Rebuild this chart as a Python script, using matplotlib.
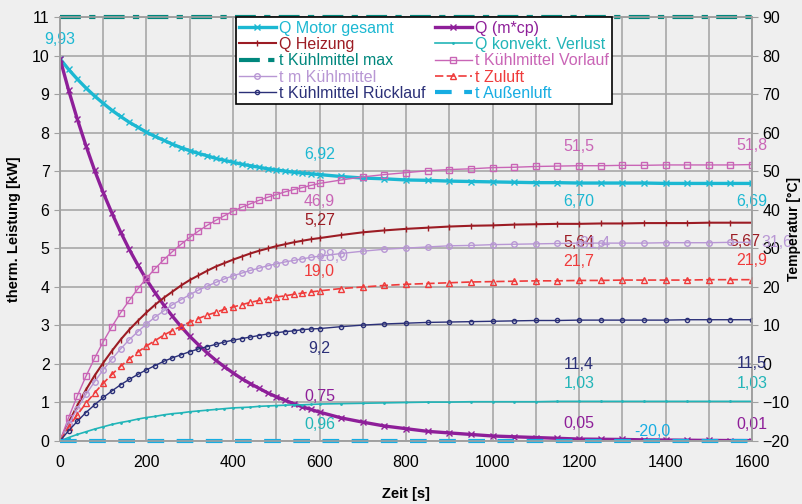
import numpy as np
import matplotlib
matplotlib.use("Agg")
from matplotlib import pyplot as plt
from matplotlib.ticker import MultipleLocator

plt.rcParams['font.family'] = ['Liberation Sans', 'DejaVu Sans']

# time axis [s]: 20 s steps up to 600 s, then 50 s steps
zeit = [0, 20, 40, 60, 80, 100, 120, 140, 160, 180, 200, 220, 240, 260, 280, 300,
        320, 340, 360, 380, 400, 420, 440, 460, 480, 500, 520, 540, 560, 580, 600,
        650, 700, 750, 800, 850, 900, 950, 1000, 1050, 1100, 1150, 1200, 1250, 1300,
        1350, 1400, 1450, 1500, 1550, 1600]

# thermal power [kW]
q_motor = [9.93, 9.65, 9.40, 9.17, 8.96, 8.77, 8.59, 8.43, 8.28, 8.15, 8.02, 7.91, 7.81,
           7.71, 7.62, 7.54, 7.47, 7.41, 7.34, 7.29, 7.24, 7.19, 7.15, 7.11, 7.07, 7.04,
           7.01, 6.98, 6.96, 6.94, 6.92, 6.87, 6.83, 6.81, 6.78, 6.77, 6.75, 6.74, 6.73,
           6.72, 6.71, 6.71, 6.70, 6.70, 6.70, 6.70, 6.69, 6.69, 6.69, 6.69, 6.69]
q_mcp = [9.93, 9.11, 8.36, 7.67, 7.03, 6.45, 5.92, 5.43, 4.98, 4.57, 4.19, 3.85, 3.53,
         3.24, 2.97, 2.72, 2.50, 2.29, 2.10, 1.93, 1.77, 1.62, 1.49, 1.37, 1.25, 1.15,
         1.06, 0.97, 0.89, 0.82, 0.75, 0.60, 0.49, 0.39, 0.32, 0.25, 0.21, 0.17, 0.13,
         0.11, 0.09, 0.07, 0.05, 0.045, 0.04, 0.03, 0.025, 0.02, 0.015, 0.012, 0.01]
q_heizung = [0.0, 0.48, 0.92, 1.33, 1.70, 2.03, 2.34, 2.63, 2.89, 3.12, 3.34, 3.54, 3.72,
             3.88, 4.04, 4.18, 4.30, 4.42, 4.53, 4.62, 4.71, 4.79, 4.87, 4.94, 5.00, 5.06,
             5.11, 5.16, 5.20, 5.24, 5.27, 5.35, 5.42, 5.47, 5.51, 5.54, 5.57, 5.59, 5.60,
             5.62, 5.63, 5.64, 5.64, 5.65, 5.65, 5.66, 5.66, 5.66, 5.67, 5.67, 5.67]
q_konv = [0.0, 0.09, 0.17, 0.24, 0.31, 0.37, 0.43, 0.48, 0.52, 0.57, 0.61, 0.64, 0.68,
          0.71, 0.73, 0.76, 0.78, 0.80, 0.82, 0.84, 0.86, 0.87, 0.88, 0.90, 0.91, 0.92,
          0.93, 0.94, 0.94, 0.95, 0.96, 0.97, 0.98, 0.99, 1.00, 1.01, 1.01, 1.02, 1.02,
          1.02, 1.02, 1.03, 1.03, 1.03, 1.03, 1.03, 1.03, 1.03, 1.03, 1.03, 1.03]

# temperatures [°C]
t_vorlauf = [-20.0, -13.9, -8.3, -3.2, 1.5, 5.8, 9.7, 13.3, 16.5, 19.5, 22.3, 24.8, 27.1,
             29.2, 31.1, 32.9, 34.5, 36.0, 37.3, 38.5, 39.7, 40.7, 41.6, 42.5, 43.3, 44.0,
             44.7, 45.3, 45.8, 46.4, 46.9, 47.8, 48.6, 49.2, 49.7, 50.2, 50.5, 50.7, 51.0,
             51.1, 51.3, 51.4, 51.5, 51.5, 51.6, 51.6, 51.7, 51.7, 51.7, 51.7, 51.8]
t_mittel = [-20.0, -15.6, -11.6, -7.9, -4.6, -1.5, 1.3, 3.9, 6.3, 8.4, 10.4, 12.2, 13.8,
            15.4, 16.7, 18.0, 19.2, 20.2, 21.2, 22.1, 22.9, 23.6, 24.3, 24.9, 25.5, 26.0,
            26.5, 26.9, 27.3, 27.7, 28.0, 28.7, 29.3, 29.8, 30.1, 30.4, 30.7, 30.8, 31.0,
            31.1, 31.2, 31.3, 31.4, 31.4, 31.4, 31.4, 31.5, 31.5, 31.5, 31.6, 31.6]
t_zuluft = [-20.0, -16.4, -13.2, -10.2, -7.5, -5.0, -2.7, -0.6, 1.3, 3.1, 4.7, 6.1, 7.5,
            8.7, 9.8, 10.9, 11.8, 12.7, 13.4, 14.2, 14.8, 15.4, 16.0, 16.5, 16.9, 17.4,
            17.7, 18.1, 18.4, 18.7, 19.0, 19.6, 20.0, 20.4, 20.7, 20.9, 21.1, 21.3, 21.4,
            21.5, 21.6, 21.6, 21.7, 21.7, 21.8, 21.8, 21.8, 21.8, 21.9, 21.9, 21.9]
t_ruecklauf = [-20.0, -17.3, -14.9, -12.6, -10.6, -8.7, -7.0, -5.4, -4.0, -2.7, -1.5, -0.4,
               0.7, 1.6, 2.4, 3.2, 3.9, 4.5, 5.1, 5.7, 6.2, 6.6, 7.0, 7.4, 7.8, 8.1, 8.4,
               8.6, 8.9, 9.1, 9.2, 9.7, 10.1, 10.4, 10.6, 10.8, 10.9, 11.0, 11.1, 11.2,
               11.3, 11.3, 11.4, 11.4, 11.4, 11.4, 11.4, 11.5, 11.5, 11.5, 11.5]
t_max = [90.0] * len(zeit)
t_aussen = [-20.0] * len(zeit)

zeit = np.array(zeit)

fig = plt.figure(figsize=(8.02, 5.04), dpi=100, facecolor='#efefef')
ax = fig.add_axes([0.0748, 0.125, 0.8629, 0.8403])
ax2 = ax.twinx()
ax.set_facecolor('#efefef')

c_motor = '#1cb8d2'
c_mcp = '#8e1f99'
c_heiz = '#9c1c24'
c_konv = '#22b5b8'
c_max = '#00877d'
c_vorl = '#c965b6'
c_mitt = '#b897d4'
c_zul = '#ef3b3b'
c_rueck = '#2b3078'
c_aussen = '#17ade2'

h_motor, = ax.plot(zeit, q_motor, color=c_motor, lw=2.4, marker='x', ms=4, mew=1,
                   label='Q Motor gesamt')
h_mcp, = ax.plot(zeit, q_mcp, color=c_mcp, lw=2.4, marker='x', ms=4, mew=1,
                 label='Q (m*cp)')
h_heiz, = ax.plot(zeit, q_heizung, color=c_heiz, lw=1.5, marker='|', ms=5, mew=1,
                  label='Q Heizung')
h_konv, = ax.plot(zeit, q_konv, color=c_konv, lw=1.2, marker='.', ms=2,
                  label='Q konvekt. Verlust')

h_max, = ax2.plot(zeit, t_max, color=c_max, lw=3, ls=(0, (5, 2, 1.5, 2)),
                  label='t Kühlmittel max', clip_on=False)
h_vorl, = ax2.plot(zeit, t_vorlauf, color=c_vorl, lw=1, marker='s', ms=4, mfc='none',
                   mew=1, label='t Kühlmittel Vorlauf')
h_mitt, = ax2.plot(zeit, t_mittel, color=c_mitt, lw=1, marker='o', ms=4, mfc='none',
                   mew=1, label='t m Kühlmittel')
h_zul, = ax2.plot(zeit, t_zuluft, color=c_zul, lw=1.2, ls=(0, (5, 2)), marker='^', ms=4,
                  mfc='none', mew=1, label='t Zuluft')
h_rueck, = ax2.plot(zeit, t_ruecklauf, color=c_rueck, lw=1, marker='o', ms=3, mfc='none',
                    mew=1, label='t Kühlmittel Rücklauf')
h_aussen, = ax2.plot(zeit, t_aussen, color=c_aussen, lw=3, ls=(0, (4, 3)),
                     label='t Außenluft', clip_on=False)

ax.set_xlim(0, 1600)
ax.set_ylim(0, 11)
ax2.set_ylim(-20, 90)
ax.xaxis.set_major_locator(MultipleLocator(200))
ax.xaxis.set_minor_locator(MultipleLocator(100))
ax.yaxis.set_major_locator(MultipleLocator(1))
ax2.yaxis.set_major_locator(MultipleLocator(10))
ax.grid(True, which='both', color='#a8a8a8', lw=1.2)
ax.set_axisbelow(True)
for a in (ax, ax2):
    for s in a.spines.values():
        s.set_color('#a0a0a0')
        s.set_linewidth(1.2)
    a.tick_params(labelsize=11.5, colors='#a0a0a0', labelcolor='black', length=4)
ax.tick_params(axis='x', which='both', length=0, pad=10)

ax.set_xlabel('Zeit [s]', fontsize=10.5, fontweight='bold', labelpad=12)
ax.set_ylabel('therm. Leistung [kW]', fontsize=10.5, fontweight='bold', labelpad=8)
# right axis title placed by hand so it stays inside the canvas
fig.text(0.9905, 0.5456, 'Temperatur [°C]', rotation=90, ha='center', va='center',
         fontsize=10, fontweight='bold')


def fmt(v, nd):
    return f"{v:.{nd}f}".replace('.', ',')


def label(axis, vals, t, nd, color, dx=0, dy=18):
    i = list(zeit).index(t)
    axis.annotate(fmt(vals[i], nd), (t, vals[i]), xytext=(dx, dy), textcoords='offset pixels',
                  ha='center', va='center', color=color, fontsize=11.5, annotation_clip=False)


label(ax, q_motor, 0, 2, c_motor, 0, 19)
label(ax, q_motor, 600, 2, c_motor, 0, 20)
label(ax, q_motor, 1200, 2, c_motor, 0, -18)
label(ax, q_motor, 1600, 2, c_motor, 0, -18)
for t in (600, 1200, 1600):
    label(ax, q_mcp, t, 2, c_mcp, 0, 16)
label(ax, q_heizung, 600, 2, c_heiz, 0, 18)
label(ax, q_heizung, 1200, 2, c_heiz, 0, -19)
label(ax, q_heizung, 1600, 2, c_heiz, -7, -19)
label(ax, q_konv, 600, 2, c_konv, 0, -20)
label(ax, q_konv, 1200, 2, c_konv, 0, 18)
label(ax, q_konv, 1600, 2, c_konv, 0, 18)
label(ax2, t_vorlauf, 600, 1, c_vorl, 0, -18)
label(ax2, t_vorlauf, 1200, 1, c_vorl, 0, 19)
label(ax2, t_vorlauf, 1600, 1, c_vorl, 0, 19)
label(ax2, t_mittel, 600, 1, c_mitt, 13, 0)
label(ax2, t_mittel, 1200, 1, c_mitt, 16, 0)
label(ax2, t_mittel, 1600, 1, c_mitt, 25, 0)
for t in (600, 1200, 1600):
    label(ax2, t_zuluft, t, 1, c_zul, 0, 19)
label(ax2, t_ruecklauf, 600, 1, c_rueck, 0, -20)
label(ax2, t_ruecklauf, 1200, 1, c_rueck, 0, -44)
label(ax2, t_ruecklauf, 1600, 1, c_rueck, 0, -44)
label(ax2, t_aussen, 1400, 1, c_aussen, -13, 10)

handles = [h_motor, h_heiz, h_max, h_mitt, h_rueck, h_mcp, h_konv, h_vorl, h_zul, h_aussen]
leg = ax2.legend(handles=handles, ncol=2, loc='upper left', bbox_to_anchor=(0.254, 1.0),
                 fontsize=11.5, frameon=True, fancybox=False, edgecolor='black',
                 framealpha=1, handlelength=2.3, handletextpad=0.2, columnspacing=0.6,
                 labelspacing=0.08, borderpad=0.2, borderaxespad=0, numpoints=1)
leg.get_frame().set_linewidth(1.2)
for txt, h in zip(leg.get_texts(), handles):
    txt.set_color(h.get_color())

fig.savefig('out.png', dpi=100, facecolor=fig.get_facecolor())
